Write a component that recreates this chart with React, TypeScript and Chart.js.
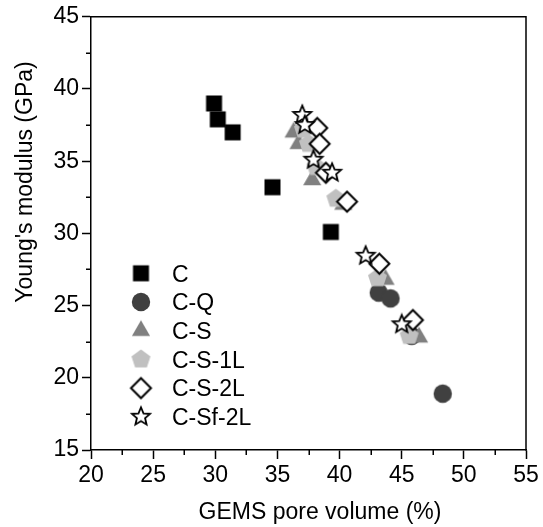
import React, { useEffect, useRef } from 'react';
import { Chart, registerables } from 'chart.js';

Chart.register(...registerables);

// ---- data ----
const seriesNames = ['C', 'C-Q', 'C-S', 'C-S-1L', 'C-S-2L', 'C-Sf-2L'];

const cPore = [29.9, 30.2, 31.4, 34.6, 39.3];
const cModulus = [39.0, 37.9, 37.0, 33.2, 30.1];

const cqPore = [43.15, 44.1, 45.8, 48.3];
const cqModulus = [25.9, 25.5, 22.9, 18.9];

const csPore = [36.3, 36.7, 37.8, 40.3, 43.7, 46.4];
const csModulus = [37.0, 36.2, 33.7, 32.0, 26.8, 22.8];

const cs1lPore = [37.1, 37.5, 38.1, 39.7, 43.05, 45.6];
const cs1lModulus = [37.2, 36.2, 34.6, 32.4, 26.9, 22.9];

const cs2lPore = [38.2, 38.4, 38.9, 40.6, 43.2, 45.9];
const cs2lModulus = [37.3, 36.2, 34.2, 32.2, 27.9, 24.0];

const csf2lPore = [37.0, 37.2, 37.9, 39.4, 42.1, 45.0];
const csf2lModulus = [38.2, 37.5, 35.1, 34.2, 28.45, 23.7];

const xTickValues = [20, 25, 30, 35, 40, 45, 50, 55];
const yTickValues = [15, 20, 25, 30, 35, 40, 45];
const xMinorTicks = [22.5, 27.5, 32.5, 37.5, 42.5, 47.5, 52.5];
const yMinorTicks = [17.5, 22.5, 27.5, 32.5, 37.5, 42.5];

const xTitle = 'GEMS pore volume (%)';
const yTitle = "Young's modulus (GPa)";

const FONT = "'Liberation Sans', Arial, Helvetica, sans-serif";
const FONT_SIZE = 23;

function makeMarker(shape: string, fill: string, stroke: string, lineWidth: number, r: number): HTMLCanvasElement {
  const size = Math.ceil(2 * r + lineWidth + 3);
  const c = document.createElement('canvas');
  c.width = size;
  c.height = size;
  const g = c.getContext('2d') as CanvasRenderingContext2D;
  g.translate(size / 2, size / 2);
  g.beginPath();
  if (shape === 'square') {
    g.rect(-r, -r, 2 * r, 2 * r);
  } else if (shape === 'circle') {
    g.arc(0, 0, r, 0, Math.PI * 2);
  } else if (shape === 'triangle') {
    for (let k = 0; k < 3; k++) {
      const a = -Math.PI / 2 + (k * 2 * Math.PI) / 3;
      if (k === 0) g.moveTo(r * Math.cos(a), r * Math.sin(a));
      else g.lineTo(r * Math.cos(a), r * Math.sin(a));
    }
  } else if (shape === 'pentagon') {
    for (let k = 0; k < 5; k++) {
      const a = -Math.PI / 2 + (k * 2 * Math.PI) / 5;
      if (k === 0) g.moveTo(r * Math.cos(a), r * Math.sin(a));
      else g.lineTo(r * Math.cos(a), r * Math.sin(a));
    }
  } else if (shape === 'diamond') {
    g.moveTo(0, -r);
    g.lineTo(r, 0);
    g.lineTo(0, r);
    g.lineTo(-r, 0);
  } else if (shape === 'star') {
    const inner = r * 0.45;
    for (let k = 0; k < 10; k++) {
      const a = -Math.PI / 2 + (k * Math.PI) / 5;
      const rr = k % 2 === 0 ? r : inner;
      if (k === 0) g.moveTo(rr * Math.cos(a), rr * Math.sin(a));
      else g.lineTo(rr * Math.cos(a), rr * Math.sin(a));
    }
  }
  g.closePath();
  g.fillStyle = fill;
  g.fill();
  if (lineWidth > 0) {
    g.lineWidth = lineWidth;
    g.strokeStyle = stroke;
    g.lineJoin = 'miter';
    g.stroke();
  }
  return c;
}

export default function App() {
  const canvasRef = useRef<HTMLCanvasElement | null>(null);

  useEffect(() => {
    const canvas = canvasRef.current;
    if (!canvas) return;

    const markers = [
      makeMarker('square', '#000000', '#000000', 0, 8),
      makeMarker('circle', '#404040', '#404040', 0, 9.2),
      makeMarker('triangle', '#808080', '#808080', 0, 10.5),
      makeMarker('pentagon', '#c0c0c0', '#c0c0c0', 0, 10),
      makeMarker('diamond', '#ffffff', '#000000', 2, 10),
      makeMarker('star', '#ffffff', '#000000', 1.8, 9.5),
    ];

    const xs = [cPore, cqPore, csPore, cs1lPore, cs2lPore, csf2lPore];
    const ys = [cModulus, cqModulus, csModulus, cs1lModulus, cs2lModulus, csf2lModulus];

    const datasets = seriesNames.map((name, i) => ({
      label: name,
      data: xs[i].map((v, j) => ({ x: v, y: ys[i][j] })),
      pointStyle: markers[i] as any,
      pointRadius: 10,
      showLine: false,
      order: seriesNames.length - i,
    }));

    const extrasPlugin = {
      id: 'extras',
      afterDraw(chart: any) {
        const { ctx, chartArea } = chart;
        const { left, right, top, bottom } = chartArea;
        const xs2 = chart.scales.x;
        const ys2 = chart.scales.y;
        ctx.save();
        ctx.strokeStyle = '#000';
        ctx.lineWidth = 1.5;
        ctx.beginPath();
        ctx.moveTo(left - 0.75, top);
        ctx.lineTo(right, top);
        ctx.lineTo(right, bottom + 0.75);
        ctx.stroke();
        // minor ticks
        ctx.lineWidth = 1.5;
        ctx.beginPath();
        xMinorTicks.forEach((v) => {
          const px = Math.round(xs2.getPixelForValue(v)) + 0.25;
          ctx.moveTo(px, bottom);
          ctx.lineTo(px, bottom + 5);
        });
        yMinorTicks.forEach((v) => {
          const py = Math.round(ys2.getPixelForValue(v)) + 0.25;
          ctx.moveTo(left, py);
          ctx.lineTo(left - 5, py);
        });
        ctx.stroke();

        ctx.font = `${FONT_SIZE}px ${FONT}`;
        ctx.fillStyle = '#000';
        ctx.textBaseline = 'alphabetic';

        // axis titles
        ctx.textAlign = 'center';
        ctx.fillText(xTitle, 320, 519);
        ctx.save();
        ctx.translate(32, 182);
        ctx.rotate(-Math.PI / 2);
        ctx.fillText(yTitle, 0, 0);
        ctx.restore();

        // legend inside plot
        const lx = 141;
        const ly0 = 273.3;
        const step = 28.7;
        ctx.textAlign = 'left';
        seriesNames.forEach((name, i) => {
          const y = ly0 + i * step;
          const m = markers[i];
          ctx.drawImage(m, lx - m.width / 2, y - m.height / 2);
          ctx.fillText(name, 172, y + FONT_SIZE * 0.716 / 2);
        });
        ctx.restore();
      },
    };

    const chart = new Chart(canvas, {
      type: 'scatter',
      data: { datasets: datasets as any },
      options: {
        animation: false,
        responsive: false,
        maintainAspectRatio: false,
        layout: { padding: { top: 15, right: 17, left: 0, bottom: 0 } },
        plugins: {
          legend: { display: false },
          tooltip: { enabled: false },
        },
        scales: {
          x: {
            type: 'linear',
            min: 20,
            max: 55,
            afterBuildTicks: (s: any) => {
              s.ticks = xTickValues.map((v) => ({ value: v }));
            },
            afterFit: (s: any) => {
              s.height = 77;
            },
            ticks: {
              color: '#000',
              font: { family: FONT, size: FONT_SIZE },
              padding: 3,
              maxRotation: 0,
              autoSkip: false,
            },
            grid: {
              display: true,
              drawOnChartArea: false,
              drawTicks: true,
              tickLength: 9,
              tickColor: '#000',
              tickWidth: 1.5,
            },
            border: { display: true, color: '#000', width: 1.5 },
            title: { display: false },
          },
          y: {
            type: 'linear',
            min: 15,
            max: 45,
            afterBuildTicks: (s: any) => {
              s.ticks = yTickValues.map((v) => ({ value: v }));
            },
            afterFit: (s: any) => {
              s.width = 91;
            },
            ticks: {
              color: '#000',
              font: { family: FONT, size: FONT_SIZE },
              padding: 3,
              autoSkip: false,
            },
            grid: {
              display: true,
              drawOnChartArea: false,
              drawTicks: true,
              tickLength: 9,
              tickColor: '#000',
              tickWidth: 1.5,
            },
            border: { display: true, color: '#000', width: 1.5 },
            title: { display: false },
          },
        },
      },
      plugins: [extrasPlugin],
    });

    return () => {
      chart.destroy();
    };
  }, []);

  return (
    <div style={{ position: 'fixed', left: 0, top: 0, width: 543, height: 527, background: '#fff' }}>
      <canvas ref={canvasRef} width={543} height={527} style={{ width: 543, height: 527, display: 'block' }} />
    </div>
  );
}
